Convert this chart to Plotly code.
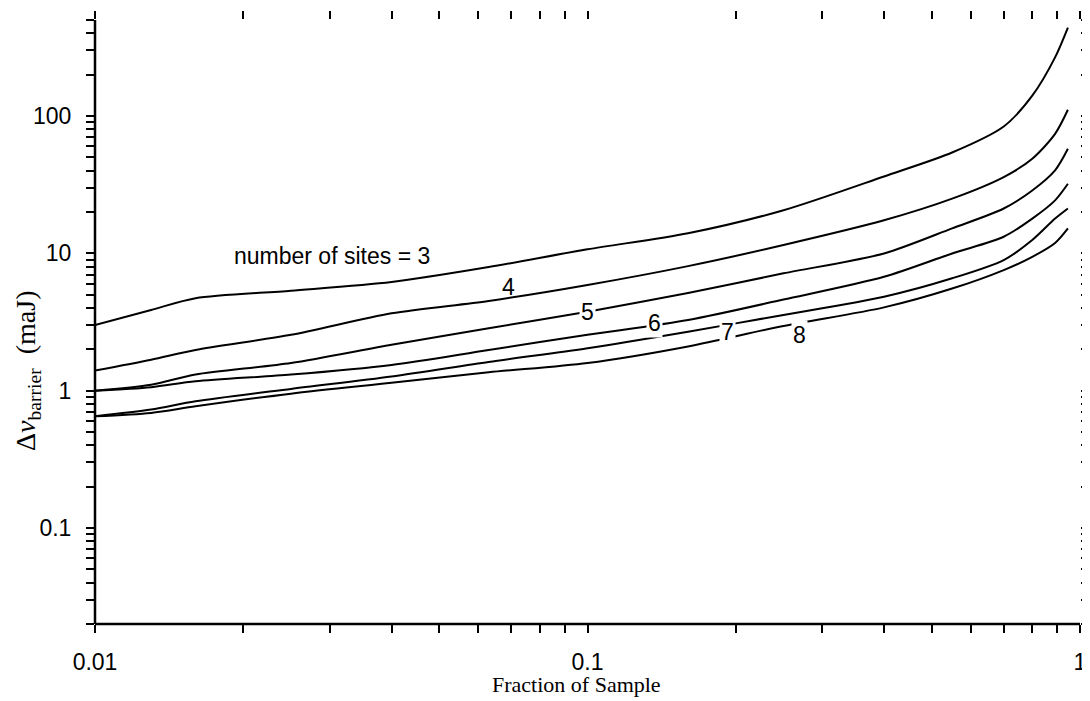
import numpy as np
import plotly.graph_objects as go

# fraction of sample (x) and barrier spread for each number of sites
fraction = [0.01, 0.013, 0.016, 0.025, 0.04, 0.063, 0.1, 0.16, 0.25,
            0.4, 0.55, 0.7, 0.8, 0.89, 0.945]

sites_3 = [3.0, 3.87, 4.71, 5.34, 6.18, 7.94, 10.7, 14.0, 20.6,
           36.3, 54.2, 83.8, 140.6, 267, 440]
sites_4 = [1.40, 1.68, 1.98, 2.55, 3.66, 4.50, 5.88, 8.07, 11.5,
           17.4, 25.0, 35.9, 48.8, 74.1, 111]
sites_5 = [1.0, 1.105, 1.31, 1.59, 2.16, 2.85, 3.76, 5.14, 7.15,
           9.98, 15.2, 21.2, 28.7, 40.2, 57.7]
sites_6 = [1.0, 1.06, 1.17, 1.31, 1.54, 1.98, 2.55, 3.27, 4.61,
           6.75, 9.98, 13.2, 17.9, 24.3, 32.1]
sites_7 = [0.651, 0.728, 0.836, 1.03, 1.27, 1.62, 2.04, 2.69, 3.56,
           4.83, 6.58, 8.93, 12.5, 17.9, 21.2]
sites_8 = [0.651, 0.689, 0.769, 0.951, 1.14, 1.36, 1.59, 2.10, 2.96,
           4.04, 5.54, 7.55, 9.43, 11.9, 15.2]

series = [sites_3, sites_4, sites_5, sites_6, sites_7, sites_8]

# curve labels: text, x, y (data units)
label_text = ['number of sites = 3', '4', '5', '6', '7', '8']
label_x = [0.0303, 0.0692, 0.1, 0.137, 0.192, 0.269]
label_y = [9.55, 5.69, 3.74, 3.12, 2.68, 2.55]
label_gap = [False, False, True, True, True, True]

# tick positions
x_ticks = [m * 10.0 ** e for e in (-2, -1) for m in range(1, 10)] + [1.0]
x_labels = {0.01: '0.01', 0.1: '0.1', 1.0: '1'}
y_ticks = [m * 10.0 ** e for e in (-2, -1, 0, 1, 2) for m in range(1, 10)]
y_ticks = [v for v in y_ticks if 0.02 <= v <= 500]
y_labels = {0.1: '0.1', 1.0: '1', 10.0: '10', 100.0: '100'}


def tick_text(vals, labels):
    out = []
    for v in vals:
        key = next((k for k in labels if abs(k - v) < 1e-9 * max(1, k)), None)
        out.append(labels[key] if key is not None else '')
    return out


sans = 'Liberation Sans, Arial, sans-serif'
serif = 'Liberation Serif, Times New Roman, serif'

fig = go.Figure()

for ys in series:
    fig.add_trace(go.Scatter(
        x=fraction, y=ys, mode='lines',
        line=dict(color='black', width=2, shape='spline', smoothing=0.8),
        showlegend=False, hoverinfo='skip',
    ))

for txt, lx, ly, gap in zip(label_text, label_x, label_y, label_gap):
    fig.add_annotation(
        x=np.log10(lx), y=np.log10(ly), text=txt, showarrow=False,
        font=dict(family=sans, size=23, color='black'),
        bgcolor='white' if gap else 'rgba(0,0,0,0)', borderpad=1,
    )

axis_common = dict(
    type='log', showgrid=False, zeroline=False, showline=False,
    mirror='ticks', ticks='outside', ticklen=8, tickwidth=2,
    tickcolor='black', tickfont=dict(family=sans, size=23, color='black'),
    ticklabeloverflow='allow',
)

fig.update_xaxes(
    range=[-2, 0], tickvals=x_ticks, ticktext=tick_text(x_ticks, x_labels),
    ticklabelstandoff=9, **axis_common,
)
fig.update_yaxes(
    range=[np.log10(0.02), np.log10(500)], tickvals=y_ticks,
    ticktext=tick_text(y_ticks, y_labels), ticklabelstandoff=10, **axis_common,
)

# left and bottom axis lines only
fig.add_shape(type='line', xref='paper', yref='paper', x0=0, x1=0, y0=0, y1=1,
              line=dict(color='black', width=2.5))
fig.add_shape(type='line', xref='paper', yref='paper', x0=0, x1=1, y0=0, y1=0,
              line=dict(color='black', width=2.5))

fig.add_annotation(
    xref='paper', yref='paper', x=0.489, y=-0.1,
    xanchor='center', yanchor='middle',
    text='Fraction of Sample', showarrow=False,
    font=dict(family=serif, size=22, color='black'),
)
fig.add_annotation(
    xref='paper', yref='paper', x=-0.068, y=0.419,
    xanchor='center', yanchor='middle', textangle=-90,
    text='Δ<i>ν</i><sub>barrier</sub>  (maJ)',
    showarrow=False, font=dict(family=serif, size=28, color='black'),
)

# page body adds an 8px offset, so margins are shifted by 8px
fig.update_layout(
    width=1090, height=693,
    margin=dict(l=87, r=16, t=12, b=77),
    paper_bgcolor='white', plot_bgcolor='white',
    showlegend=False,
)

fig.write_html('out.html')
